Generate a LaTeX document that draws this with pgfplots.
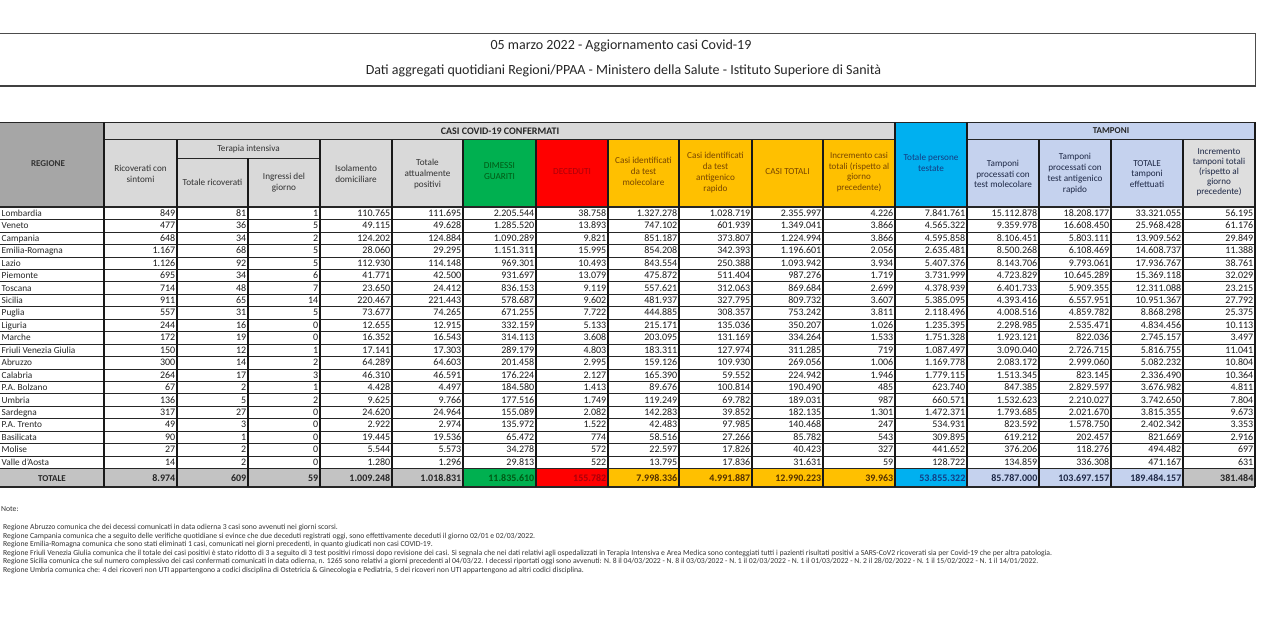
\documentclass[border=0pt]{standalone}
\usepackage{pgfplots}
\pgfplotsset{compat=1.18}
\usepackage{pgfplotstable}
\usepackage{fontspec}
\setmainfont{Carlito}

\definecolor{hdrgray}{RGB}{217,217,217}
\definecolor{reggray}{RGB}{166,166,166}
\definecolor{totgray}{RGB}{195,195,195}
\definecolor{cgreen}{RGB}{0,176,80}
\definecolor{tgreen}{RGB}{0,90,20}
\definecolor{cred}{RGB}{255,0,0}
\definecolor{tred}{RGB}{170,0,10}
\definecolor{cyel}{RGB}{255,192,0}
\definecolor{tyel}{RGB}{120,70,0}
\definecolor{ccyan}{RGB}{0,176,240}
\definecolor{tcyan}{RGB}{20,60,130}
\definecolor{lblue}{RGB}{197,210,238}
\definecolor{incgray}{RGB}{222,222,222}
\definecolor{htxt}{RGB}{50,50,50}
\definecolor{btxt}{RGB}{30,40,70}

\ExplSyntaxOn
\NewDocumentCommand{\thsep}{m}{
  \tl_set:Nx \l_tmpa_tl {#1}
  \int_set:Nn \l_tmpa_int { \tl_count:N \l_tmpa_tl }
  \int_zero:N \l_tmpb_int
  \tl_map_inline:Nn \l_tmpa_tl
    {
      \int_compare:nNnT { \l_tmpb_int } > { 0 }
        {
          \int_compare:nNnT { \int_mod:nn { \l_tmpa_int - \l_tmpb_int } { 3 } } = { 0 } { . }
        }
      ##1
      \int_incr:N \l_tmpb_int
    }
}
\ExplSyntaxOff

\pgfplotstableread[col sep=comma, row sep=\\]{
name,c1,c2,c3,c4,c5,c6,c7,c8,c9,c10,c11,c12,c13,c14,c15,c16\\
Lombardia,849,81,1,110765,111695,2205544,38758,1327278,1028719,2355997,4226,7841761,15112878,18208177,33321055,56195\\
Veneto,477,36,5,49115,49628,1285520,13893,747102,601939,1349041,3866,4565322,9359978,16608450,25968428,61176\\
Campania,648,34,2,124202,124884,1090289,9821,851187,373807,1224994,3866,4595858,8106451,5803111,13909562,29849\\
Emilia-Romagna,1167,68,5,28060,29295,1151311,15995,854208,342393,1196601,2056,2635481,8500268,6108469,14608737,11388\\
Lazio,1126,92,5,112930,114148,969301,10493,843554,250388,1093942,3934,5407376,8143706,9793061,17936767,38761\\
Piemonte,695,34,6,41771,42500,931697,13079,475872,511404,987276,1719,3731999,4723829,10645289,15369118,32029\\
Toscana,714,48,7,23650,24412,836153,9119,557621,312063,869684,2699,4378939,6401733,5909355,12311088,23215\\
Sicilia,911,65,14,220467,221443,578687,9602,481937,327795,809732,3607,5385095,4393416,6557951,10951367,27792\\
Puglia,557,31,5,73677,74265,671255,7722,444885,308357,753242,3811,2118496,4008516,4859782,8868298,25375\\
Liguria,244,16,0,12655,12915,332159,5133,215171,135036,350207,1026,1235395,2298985,2535471,4834456,10113\\
Marche,172,19,0,16352,16543,314113,3608,203095,131169,334264,1533,1751328,1923121,822036,2745157,3497\\
Friuli Venezia Giulia,150,12,1,17141,17303,289179,4803,183311,127974,311285,719,1087497,3090040,2726715,5816755,11041\\
Abruzzo,300,14,2,64289,64603,201458,2995,159126,109930,269056,1006,1169778,2083172,2999060,5082232,10804\\
Calabria,264,17,3,46310,46591,176224,2127,165390,59552,224942,1946,1779115,1513345,823145,2336490,10364\\
P.A. Bolzano,67,2,1,4428,4497,184580,1413,89676,100814,190490,485,623740,847385,2829597,3676982,4811\\
Umbria,136,5,2,9625,9766,177516,1749,119249,69782,189031,987,660571,1532623,2210027,3742650,7804\\
Sardegna,317,27,0,24620,24964,155089,2082,142283,39852,182135,1301,1472371,1793685,2021670,3815355,9673\\
P.A. Trento,49,3,0,2922,2974,135972,1522,42483,97985,140468,247,534931,823592,1578750,2402342,3353\\
Basilicata,90,1,0,19445,19536,65472,774,58516,27266,85782,543,309895,619212,202457,821669,2916\\
Molise,27,2,0,5544,5573,34278,572,22597,17826,40423,327,441652,376206,118276,494482,697\\
Valle d'Aosta,14,2,0,1280,1296,29813,522,13795,17836,31631,59,128722,134859,336308,471167,631\\
}\data

\pgfplotstableread[col sep=comma, row sep=\\]{
name,c1,c2,c3,c4,c5,c6,c7,c8,c9,c10,c11,c12,c13,c14,c15,c16\\
TOTALE,8974,609,59,1009248,1018831,11835610,155782,7998336,4991887,12990223,39963,53855322,85787000,103697157,189484157,381484\\
}\tot

\pgfplotsset{
  valcol/.style={draw=none, mark=none, forget plot,
    point meta=explicit symbolic,
    nodes near coords={\thsep{\pgfplotspointmeta}},
    every node near coord/.append style={anchor=base east, inner sep=0pt,
      font=\fontsize{10}{11}\selectfont, text=black!90}},
  totcol/.style={valcol,
    every node near coord/.append style={font=\fontsize{10}{11}\selectfont\bfseries, text=#1}},
}
\tikzset{
  hdr/.style={align=center, inner sep=0pt, font=\fontsize{9.2}{10.8}\selectfont, text=htxt},
  vl/.style={line width=1.15pt, black!90},
  hl/.style={line width=0.6pt, black!85},
  note/.style={anchor=base west, inner sep=0pt, font=\fontsize{7.7}{8.5}\selectfont, text=black!80},
}

\newcommand{\ry}{216.3+12.45*\coordindex}

\begin{document}
\begin{tikzpicture}
\begin{axis}[
  x=1pt, y=1pt, y dir=reverse,
  xmin=0, xmax=1280, ymin=0, ymax=640,
  hide axis, clip=false,
]
% ---------- title box ----------
\draw[line width=0.6pt, black!70] (-5,33) -- (1255,33) -- (1255,86);
\draw[line width=1.8pt, black!75] (-5,85.8) -- (1256,85.8);
\node[inner sep=0pt, font=\fontsize{14}{16}\selectfont, text=black!85] at (621,46) {05 marzo 2022 - Aggiornamento casi Covid-19};
\node[inner sep=0pt, font=\fontsize{14}{16}\selectfont, text=black!85] at (623.5,71) {Dati aggregati quotidiani Regioni/PPAA - Ministero della Salute - Istituto Superiore di Sanità};

% ---------- header fills ----------
\fill[reggray] (-10,122) rectangle (104,207);
\fill[hdrgray] (104,122) rectangle (895,139.5);
\fill[hdrgray] (104,139.5) rectangle (463,207);
\fill[cgreen] (463,139.5) rectangle (536,207);
\fill[cred] (536,139.5) rectangle (608,207);
\fill[cyel] (608,139.5) rectangle (895,207);
\fill[ccyan] (895,122) rectangle (967,207);
\fill[lblue] (967,122) rectangle (1255,139.5);
\fill[lblue] (967,139.5) rectangle (1183,207);
\fill[incgray] (1183,139.5) rectangle (1255,207);
% ---------- total row fills ----------
\fill[totgray] (-10,468.45) rectangle (463,487);
\fill[cgreen] (463,468.45) rectangle (536,487);
\fill[cred] (536,468.45) rectangle (608,487);
\fill[cyel] (608,468.45) rectangle (895,487);
\fill[ccyan] (895,468.45) rectangle (967,487);
\fill[lblue] (967,468.45) rectangle (1183,487);
\fill[totgray] (1183,468.45) rectangle (1255,487);

% ---------- grid ----------
\pgfplotsinvokeforeach{1,...,20}{
  \draw[hl] (-10,{207+12.45*#1}) -- (1255,{207+12.45*#1});
}
\draw[line width=1pt, black!85] (-10,468.45) -- (1255,468.45);
\draw[line width=1.2pt, black!85] (-10,487) -- (1255,487);
\draw[line width=1pt, black!85] (-10,122) -- (1255,122);
\draw[hl] (104,139.5) -- (895,139.5);
\draw[hl] (967,139.5) -- (1255,139.5);
\draw[hl] (177,158) -- (320,158);
\draw[line width=1.2pt, black!85] (-10,207) -- (1255,207);
\pgfplotsinvokeforeach{104,895,967,1255}{ \draw[vl] (#1,122) -- (#1,487); }
\pgfplotsinvokeforeach{177,320,392,463,536,608,679,752,823,1039,1111,1183}{ \draw[vl] (#1,139.5) -- (#1,487); }
\draw[vl] (248,158) -- (248,487);

% ---------- header text ----------
\node[hdr, font=\fontsize{9}{10}\selectfont\bfseries, text=black!80] at (48,164) {REGIONE};
\node[hdr, font=\fontsize{10}{11}\selectfont\bfseries, text=black!85] at (500,131) {CASI COVID-19 CONFERMATI};
\node[hdr, font=\fontsize{9}{10}\selectfont\bfseries, text=black!85] at (1111,131) {TAMPONI};
\node[hdr] at (140.5,173.5) {Ricoverati con\\sintomi};
\node[hdr] at (248.5,149) {Terapia intensiva};
\node[hdr] at (212.5,182) {Totale ricoverati};
\node[hdr] at (284,182.5) {Ingressi del\\giorno};
\node[hdr] at (356,173.5) {Isolamento\\domiciliare};
\node[hdr] at (427.5,174) {Totale\\attualmente\\positivi};
\node[hdr, text=tgreen] at (499.5,171) {DIMESSI\\GUARITI};
\node[hdr, text=tred] at (572,172) {DECEDUTI};
\node[hdr, text=tyel] at (643.5,171.5) {Casi identificati\\da test\\molecolare};
\node[hdr, text=tyel] at (715.5,172.5) {Casi identificati\\da test\\antigenico\\rapido};
\node[hdr, text=tyel] at (787.5,172) {CASI TOTALI};
\node[hdr, text=tyel, font=\fontsize{9}{10.5}\selectfont] at (859,172) {Incremento casi\\totali (rispetto al\\giorno\\precedente)};
\node[hdr, text=tcyan] at (931,162.5) {Totale persone\\testate};
\node[hdr, text=btxt] at (1003,174) {Tamponi\\processati con\\test molecolare};
\node[hdr, text=btxt] at (1075,173.5) {Tamponi\\processati con\\test antigenico\\rapido};
\node[hdr, text=btxt] at (1147,174) {TOTALE\\tamponi\\effettuati};
\node[hdr, text=btxt, font=\fontsize{9.1}{9.9}\selectfont] at (1219,172.5) {Incremento\\tamponi totali\\(rispetto al\\giorno\\precedente)};

% ---------- region names ----------
\addplot[draw=none, mark=none, forget plot, point meta=explicit symbolic,
  nodes near coords={\pgfplotspointmeta},
  every node near coord/.append style={anchor=base west, inner sep=0pt,
    font=\fontsize{9.3}{10}\selectfont, text=black!85}]
  table[x expr=1.5, y expr=\ry, meta=name] {\data};

% ---------- values ----------
\addplot[valcol] table[x expr=175.5,  y expr=\ry, meta=c1]  {\data};
\addplot[valcol] table[x expr=246.5,  y expr=\ry, meta=c2]  {\data};
\addplot[valcol] table[x expr=318.5,  y expr=\ry, meta=c3]  {\data};
\addplot[valcol] table[x expr=390.5,  y expr=\ry, meta=c4]  {\data};
\addplot[valcol] table[x expr=461.5,  y expr=\ry, meta=c5]  {\data};
\addplot[valcol] table[x expr=534.5,  y expr=\ry, meta=c6]  {\data};
\addplot[valcol] table[x expr=606.5,  y expr=\ry, meta=c7]  {\data};
\addplot[valcol] table[x expr=677.5,  y expr=\ry, meta=c8]  {\data};
\addplot[valcol] table[x expr=750.5,  y expr=\ry, meta=c9]  {\data};
\addplot[valcol] table[x expr=821.5,  y expr=\ry, meta=c10] {\data};
\addplot[valcol] table[x expr=893.5,  y expr=\ry, meta=c11] {\data};
\addplot[valcol] table[x expr=965.5,  y expr=\ry, meta=c12] {\data};
\addplot[valcol] table[x expr=1037.5, y expr=\ry, meta=c13] {\data};
\addplot[valcol] table[x expr=1109.5, y expr=\ry, meta=c14] {\data};
\addplot[valcol] table[x expr=1181.5, y expr=\ry, meta=c15] {\data};
\addplot[valcol] table[x expr=1253.5, y expr=\ry, meta=c16] {\data};

% ---------- totals ----------
\addplot[draw=none, mark=none, forget plot, point meta=explicit symbolic,
  nodes near coords={\pgfplotspointmeta},
  every node near coord/.append style={anchor=base, inner sep=0pt,
    font=\fontsize{9}{10}\selectfont\bfseries, text=black!85}]
  table[x expr=52, y expr=481, meta=name] {\tot};
\addplot[totcol=black!85] table[x expr=175.5,  y expr=481, meta=c1]  {\tot};
\addplot[totcol=black!85] table[x expr=246.5,  y expr=481, meta=c2]  {\tot};
\addplot[totcol=black!85] table[x expr=318.5,  y expr=481, meta=c3]  {\tot};
\addplot[totcol=black!85] table[x expr=390.5,  y expr=481, meta=c4]  {\tot};
\addplot[totcol=black!85] table[x expr=461.5,  y expr=481, meta=c5]  {\tot};
\addplot[totcol=tgreen]   table[x expr=534.5,  y expr=481, meta=c6]  {\tot};
\addplot[totcol=tred]     table[x expr=606.5,  y expr=481, meta=c7]  {\tot};
\addplot[totcol=tyel!70!black] table[x expr=677.5,  y expr=481, meta=c8]  {\tot};
\addplot[totcol=tyel!70!black] table[x expr=750.5,  y expr=481, meta=c9]  {\tot};
\addplot[totcol=tyel!70!black] table[x expr=821.5,  y expr=481, meta=c10] {\tot};
\addplot[totcol=tyel!70!black] table[x expr=893.5,  y expr=481, meta=c11] {\tot};
\addplot[totcol=tcyan]    table[x expr=965.5,  y expr=481, meta=c12] {\tot};
\addplot[totcol=btxt]     table[x expr=1037.5, y expr=481, meta=c13] {\tot};
\addplot[totcol=btxt]     table[x expr=1109.5, y expr=481, meta=c14] {\tot};
\addplot[totcol=btxt]     table[x expr=1181.5, y expr=481, meta=c15] {\tot};
\addplot[totcol=black!85] table[x expr=1253.5, y expr=481, meta=c16] {\tot};

% ---------- notes ----------
\node[note] at (1,511) {Note:};
\node[note] at (3,529.5) {Regione Abruzzo comunica che dei decessi comunicati in data odierna 3 casi sono avvenuti nei giorni scorsi.};
\node[note] at (3,538) {Regione Campania comunica che a seguito delle verifiche quotidiane si evince che due deceduti registrati oggi, sono effettivamente deceduti il giorno 02/01 e 02/03/2022.};
\node[note] at (3,546.5) {Regione Emilia-Romagna comunica che sono stati eliminati 1 casi, comunicati nei giorni precedenti, in quanto giudicati non casi COVID-19.};
\node[note] at (3,555) {Regione Friuli Venezia Giulia comunica che il totale dei casi positivi è stato ridotto di 3 a seguito di 3 test positivi rimossi dopo revisione dei casi. Si segnala che nei dati relativi agli ospedalizzati in Terapia Intensiva e Area Medica sono conteggiati tutti i pazienti risultati positivi a SARS-CoV2 ricoverati sia per Covid-19 che per altra patologia.};
\node[note] at (3,563.5) {Regione Sicilia comunica che sul numero complessivo dei casi confermati comunicati in data odierna, n. 1265 sono relativi a giorni precedenti al 04/03/22. I decessi riportati oggi sono avvenuti: N. 8 il 04/03/2022 - N. 8 il 03/03/2022 - N. 1 il 02/03/2022 - N. 1 il 01/03/2022 - N. 2 il 28/02/2022 - N. 1 il 15/02/2022 - N. 1 il 14/01/2022.};
\node[note] at (3,572) {Regione Umbria comunica che: 4 dei ricoveri non UTI appartengono a codici disciplina di Ostetricia \& Ginecologia e Pediatria, 5 dei ricoveri non UTI appartengono ad altri codici disciplina.};
\end{axis}
\pgfresetboundingbox
\path[use as bounding box] (current axis.south west) rectangle (current axis.north east);
\end{tikzpicture}
\end{document}
